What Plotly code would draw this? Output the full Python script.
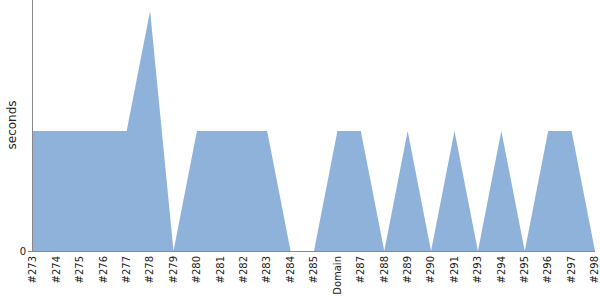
import plotly.graph_objects as go

categories = ["#273", "#274", "#275", "#276", "#277", "#278", "#279", "#280", "#281", "#282",
              "#283", "#284", "#285", "Domain", "#287", "#288", "#289", "#290", "#291", "#293",
              "#294", "#295", "#296", "#297", "#298"]
values = [1, 1, 1, 1, 1, 2, 0, 1, 1, 1, 1, 0, 0, 1, 1, 0, 1, 0, 1, 0, 1, 0, 1, 1, 0]

fig = go.Figure()
fig.add_trace(go.Scatter(
    x=categories, y=values, mode="lines", fill="tozeroy",
    fillcolor="rgb(143,178,219)", line=dict(width=0, color="rgb(143,178,219)"),
    hoverinfo="x+y",
))

fig.update_layout(
    width=600, height=300,
    margin=dict(l=33, r=5, t=0, b=49),
    paper_bgcolor="white", plot_bgcolor="white",
    showlegend=False,
    font=dict(family="DejaVu Sans", size=11, color="#222"),
    annotations=[dict(
        text="seconds", textangle=-90, xref="paper", yref="paper",
        x=0, y=0.5, xanchor="center", yanchor="middle", xshift=-22,
        showarrow=False, font=dict(size=12, color="#222"),
    )],
)
fig.update_xaxes(
    type="category", range=[0, len(categories) - 1],
    tickangle=-90, showgrid=False, showline=True, linecolor="#888", linewidth=1,
    ticks="", tickfont=dict(size=10), zeroline=False,
)
fig.update_yaxes(
    range=[0, 2.09], tickvals=[0], ticktext=["0"],
    showgrid=False, showline=True, linecolor="#888", linewidth=1,
    ticks="outside", ticklen=4, tickcolor="#888", zeroline=False,
    tickfont=dict(size=10),
)

fig.write_html("out.html")
